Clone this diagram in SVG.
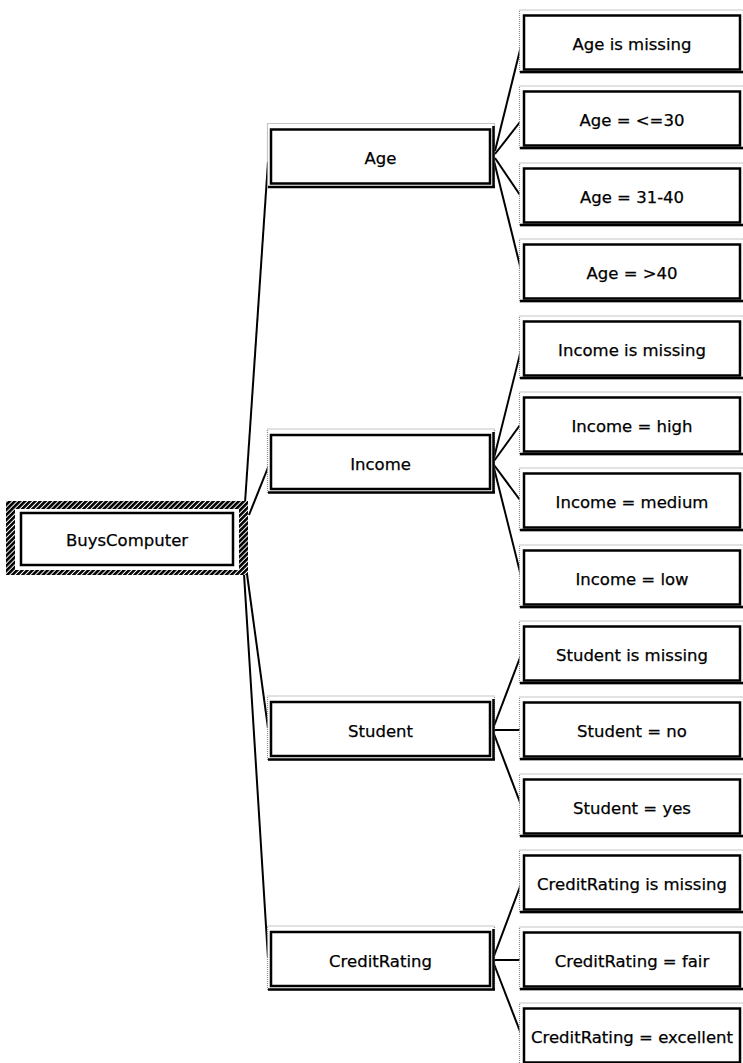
<svg xmlns="http://www.w3.org/2000/svg" width="743" height="1063" viewBox="0 0 743 1063">
<style>
.frame{fill:#fff;stroke:#8a8a8a;stroke-width:1.2;stroke-dasharray:1,1}
.box{fill:#fff;stroke:#000;stroke-width:2.5}
.shadow{stroke:#000;stroke-width:2.5;fill:none}
.lbl{font-family:"DejaVu Sans",sans-serif;font-size:16.5px;fill:#000;text-anchor:middle;stroke:#000;stroke-width:0.25}
.conn line{stroke:#000;stroke-width:2;fill:none}
</style>
<defs>
<pattern id="hatch" patternUnits="userSpaceOnUse" width="3.6" height="8" patternTransform="rotate(45)">
<rect width="3.6" height="8" fill="#000"/>
<rect x="2.6" width="1" height="8" fill="#fff"/>
</pattern>
</defs>
<rect width="743" height="1063" fill="#fff"/>
<g id="connectors" class="conn">
<line x1="245" y1="503" x2="268" y2="162"/>
<line x1="249" y1="515" x2="269" y2="465"/>
<line x1="247" y1="574" x2="268" y2="728"/>
<line x1="244" y1="574" x2="268" y2="958"/>
<line x1="495" y1="151" x2="521" y2="46"/>
<line x1="495" y1="154" x2="520" y2="122"/>
<line x1="495" y1="158" x2="520" y2="195"/>
<line x1="494" y1="161" x2="521" y2="270"/>
<line x1="494" y1="458" x2="521" y2="350"/>
<line x1="494" y1="461" x2="520" y2="425"/>
<line x1="494" y1="465" x2="520" y2="500"/>
<line x1="494" y1="468" x2="521" y2="576"/>
<line x1="494" y1="726" x2="521" y2="655"/>
<line x1="494" y1="730" x2="521" y2="730"/>
<line x1="494" y1="734" x2="521" y2="805"/>
<line x1="494" y1="956" x2="521" y2="884"/>
<line x1="494" y1="960" x2="521" y2="960"/>
<line x1="494" y1="964" x2="521" y2="1034"/>
</g>
<g id="root">
<rect x="6" y="501" width="242" height="74" fill="url(#hatch)"/>
<rect x="15" y="509" width="224" height="61" fill="#fff"/>
<rect x="21" y="513" width="212" height="52" class="box" stroke-width="2"/>
<text x="127" y="546" class="lbl">BuysComputer</text>
</g>
<g id="age">
<rect x="267.5" y="123.5" width="227" height="64" class="frame"/>
<rect x="271" y="129.5" width="219" height="54" class="box"/>
<path d="M493.5,126 V187 M268,187 H495" class="shadow"/>
<text x="380.5" y="164" class="lbl">Age</text>
</g>
<g id="income">
<rect x="267.5" y="429" width="227" height="64" class="frame"/>
<rect x="271" y="435" width="219" height="54" class="box"/>
<path d="M493.5,432 V492.5 M268,492.5 H495" class="shadow"/>
<text x="380.5" y="469.5" class="lbl">Income</text>
</g>
<g id="student">
<rect x="267.5" y="696" width="227" height="64" class="frame"/>
<rect x="271" y="702" width="219" height="54" class="box"/>
<path d="M493.5,699 V759.5 M268,759.5 H495" class="shadow"/>
<text x="380.5" y="736.5" class="lbl">Student</text>
</g>
<g id="creditrating">
<rect x="267.5" y="926" width="227" height="64" class="frame"/>
<rect x="271" y="932" width="219" height="54" class="box"/>
<path d="M493.5,929 V989.5 M268,989.5 H495" class="shadow"/>
<text x="380.5" y="966.5" class="lbl">CreditRating</text>
</g>
<g id="leaf-age-missing">
<rect x="519.5" y="10" width="224" height="63" class="frame"/>
<rect x="524" y="15.5" width="216" height="54" class="box"/>
<line x1="520" y1="72" x2="743" y2="72" class="shadow"/>
<text x="632" y="49.5" class="lbl">Age is missing</text>
</g>
<g id="leaf-age-le30">
<rect x="519.5" y="86" width="224" height="63" class="frame"/>
<rect x="524" y="91.5" width="216" height="54" class="box"/>
<line x1="520" y1="148" x2="743" y2="148" class="shadow"/>
<text x="632" y="125.5" class="lbl">Age = &lt;=30</text>
</g>
<g id="leaf-age-3140">
<rect x="519.5" y="163" width="224" height="63" class="frame"/>
<rect x="524" y="168.5" width="216" height="54" class="box"/>
<line x1="520" y1="225" x2="743" y2="225" class="shadow"/>
<text x="632" y="202.5" class="lbl">Age = 31-40</text>
</g>
<g id="leaf-age-gt40">
<rect x="519.5" y="239" width="224" height="63" class="frame"/>
<rect x="524" y="244.5" width="216" height="54" class="box"/>
<line x1="520" y1="301" x2="743" y2="301" class="shadow"/>
<text x="632" y="278.5" class="lbl">Age = &gt;40</text>
</g>
<g id="leaf-income-missing">
<rect x="519.5" y="316" width="224" height="63" class="frame"/>
<rect x="524" y="321.5" width="216" height="54" class="box"/>
<line x1="520" y1="378" x2="743" y2="378" class="shadow"/>
<text x="632" y="355.5" class="lbl">Income is missing</text>
</g>
<g id="leaf-income-high">
<rect x="519.5" y="392" width="224" height="63" class="frame"/>
<rect x="524" y="397.5" width="216" height="54" class="box"/>
<line x1="520" y1="454" x2="743" y2="454" class="shadow"/>
<text x="632" y="431.5" class="lbl">Income = high</text>
</g>
<g id="leaf-income-medium">
<rect x="519.5" y="468" width="224" height="63" class="frame"/>
<rect x="524" y="473.5" width="216" height="54" class="box"/>
<line x1="520" y1="530" x2="743" y2="530" class="shadow"/>
<text x="632" y="507.5" class="lbl">Income = medium</text>
</g>
<g id="leaf-income-low">
<rect x="519.5" y="545" width="224" height="63" class="frame"/>
<rect x="524" y="550.5" width="216" height="54" class="box"/>
<line x1="520" y1="607" x2="743" y2="607" class="shadow"/>
<text x="632" y="584.5" class="lbl">Income = low</text>
</g>
<g id="leaf-student-missing">
<rect x="519.5" y="621" width="224" height="63" class="frame"/>
<rect x="524" y="626.5" width="216" height="54" class="box"/>
<line x1="520" y1="683" x2="743" y2="683" class="shadow"/>
<text x="632" y="660.5" class="lbl">Student is missing</text>
</g>
<g id="leaf-student-no">
<rect x="519.5" y="697" width="224" height="63" class="frame"/>
<rect x="524" y="702.5" width="216" height="54" class="box"/>
<line x1="520" y1="759" x2="743" y2="759" class="shadow"/>
<text x="632" y="736.5" class="lbl">Student = no</text>
</g>
<g id="leaf-student-yes">
<rect x="519.5" y="774" width="224" height="63" class="frame"/>
<rect x="524" y="779.5" width="216" height="54" class="box"/>
<line x1="520" y1="836" x2="743" y2="836" class="shadow"/>
<text x="632" y="813.5" class="lbl">Student = yes</text>
</g>
<g id="leaf-credit-missing">
<rect x="519.5" y="850" width="224" height="63" class="frame"/>
<rect x="524" y="855.5" width="216" height="54" class="box"/>
<line x1="520" y1="912" x2="743" y2="912" class="shadow"/>
<text x="632" y="889.5" class="lbl">CreditRating is missing</text>
</g>
<g id="leaf-credit-fair">
<rect x="519.5" y="927" width="224" height="63" class="frame"/>
<rect x="524" y="932.5" width="216" height="54" class="box"/>
<line x1="520" y1="989" x2="743" y2="989" class="shadow"/>
<text x="632" y="966.5" class="lbl">CreditRating = fair</text>
</g>
<g id="leaf-credit-excellent">
<rect x="519.5" y="1003" width="224" height="63" class="frame"/>
<rect x="524" y="1008.5" width="216" height="54" class="box"/>
<text x="632" y="1042.5" class="lbl">CreditRating = excellent</text>
</g>
</svg>
